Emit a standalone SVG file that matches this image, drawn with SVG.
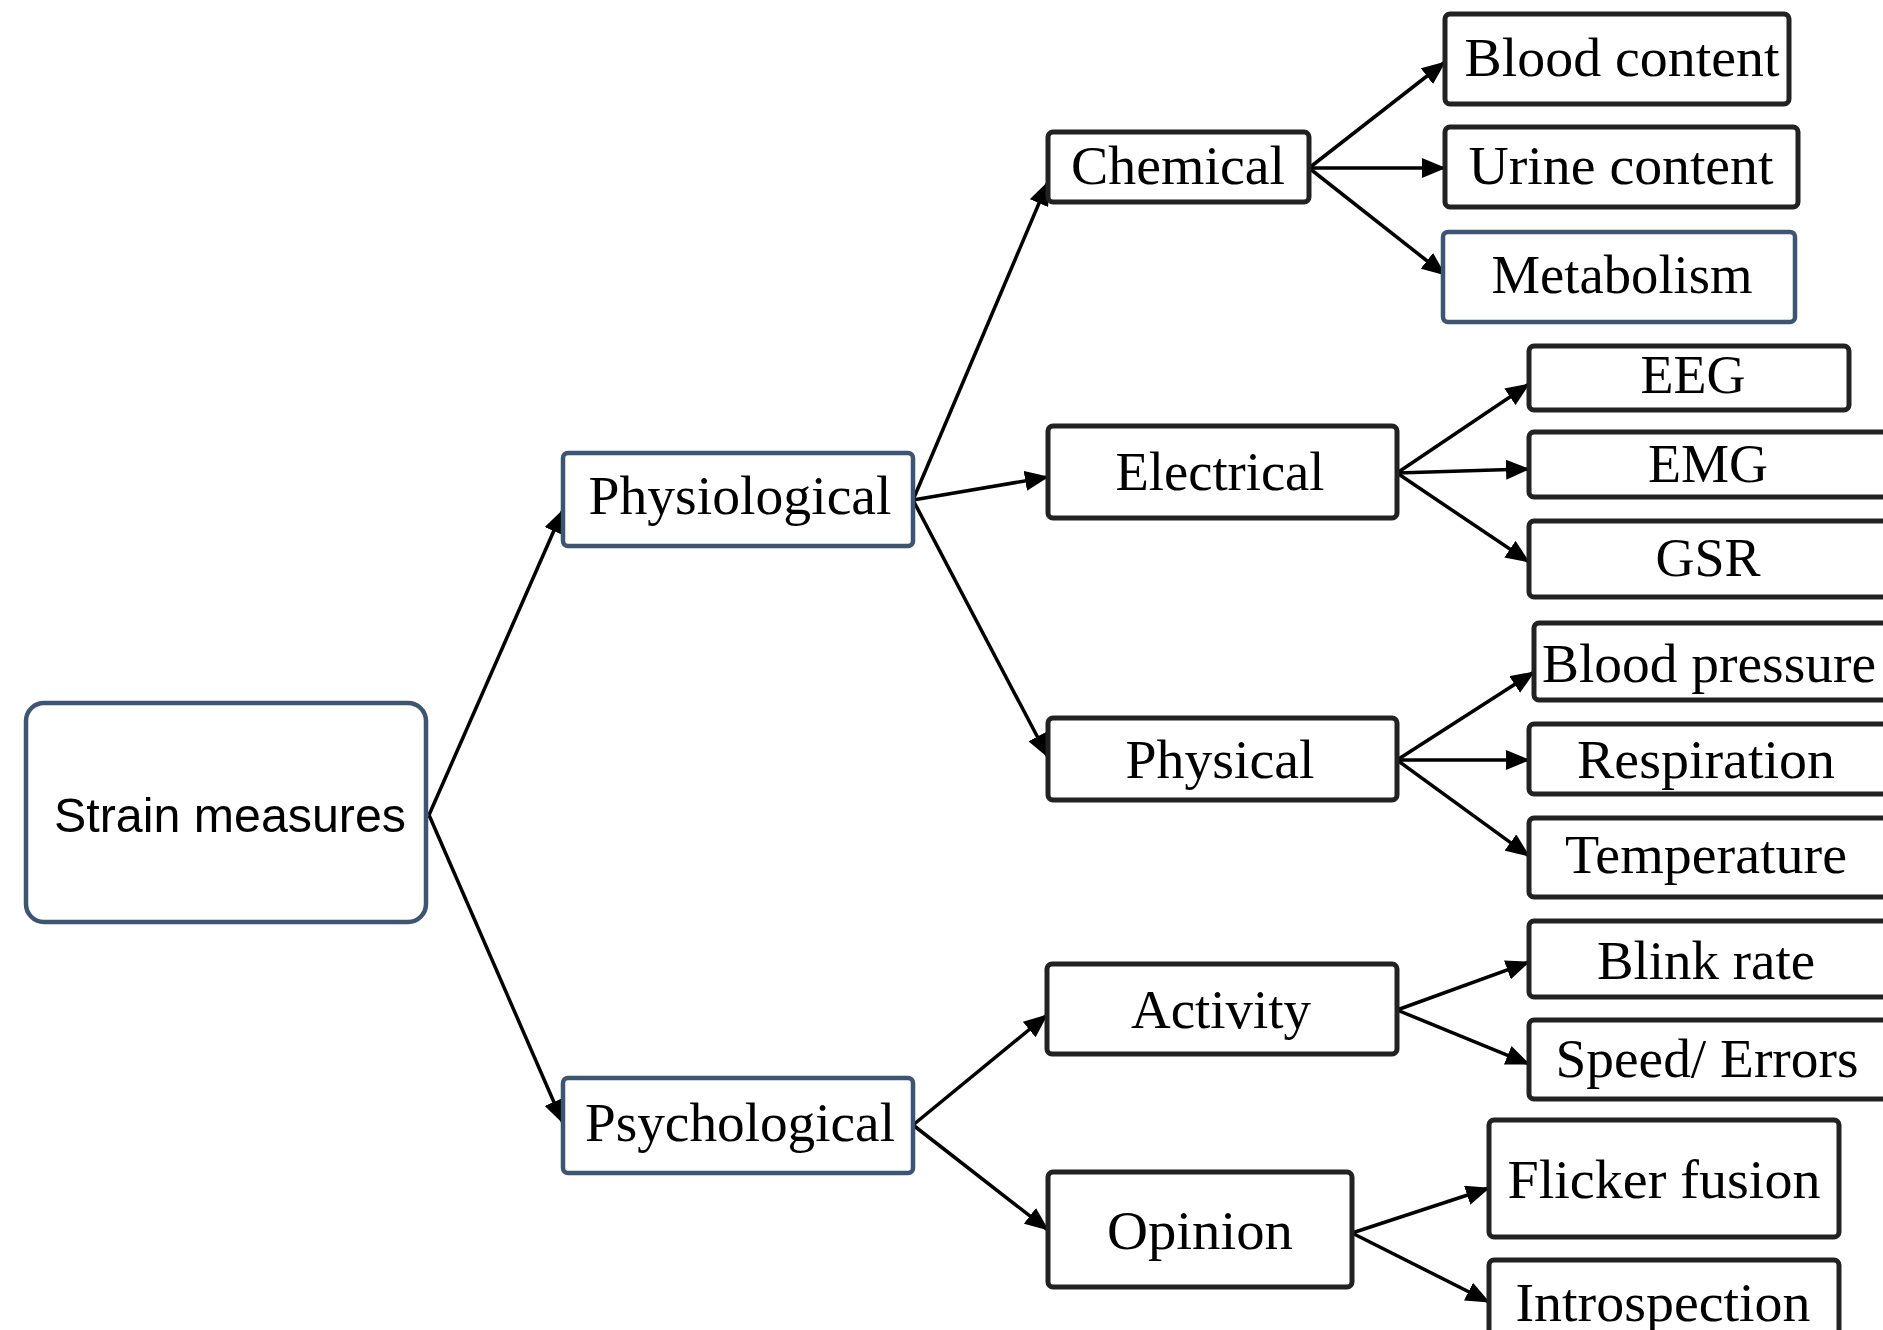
<svg xmlns="http://www.w3.org/2000/svg" width="1883" height="1330" viewBox="0 0 1883 1330">
<style>
.bx{fill:#fff;stroke:#222;stroke-width:5}
.bb{fill:#fff;stroke:#3d5573;stroke-width:4.5}
.t{font-family:"Liberation Serif","Times New Roman",serif;font-size:54px;fill:#000;text-anchor:middle}
.s{font-family:"Liberation Sans",Arial,sans-serif;font-size:48px;fill:#000;text-anchor:middle}
.c line{stroke:#000;stroke-width:3.5;marker-end:url(#ah)}
</style>
<defs>
<marker id="ah" markerUnits="userSpaceOnUse" markerWidth="24" markerHeight="20" viewBox="0 0 24 20" refX="23" refY="10" orient="auto">
<path d="M0,0 L24,10 L0,20 z" fill="#000"/>
</marker>
</defs>
<rect width="1883" height="1330" fill="#fff"/>
<g class="c" id="connectors">
<line x1="429" y1="815" x2="563" y2="510"/>
<line x1="429" y1="815" x2="563" y2="1123"/>
<line x1="913" y1="500" x2="1048" y2="182"/>
<line x1="913" y1="500" x2="1048" y2="477"/>
<line x1="913" y1="500" x2="1048" y2="757"/>
<line x1="913" y1="1125" x2="1047" y2="1015"/>
<line x1="913" y1="1125" x2="1048" y2="1230"/>
<line x1="1309" y1="168" x2="1445" y2="62"/>
<line x1="1309" y1="168" x2="1445" y2="168"/>
<line x1="1309" y1="168" x2="1445" y2="275"/>
<line x1="1397" y1="473" x2="1529" y2="384"/>
<line x1="1397" y1="473" x2="1529" y2="469"/>
<line x1="1397" y1="473" x2="1529" y2="562"/>
<line x1="1397" y1="760" x2="1534" y2="672"/>
<line x1="1397" y1="760" x2="1529" y2="760"/>
<line x1="1397" y1="760" x2="1529" y2="856"/>
<line x1="1397" y1="1010" x2="1529" y2="962"/>
<line x1="1397" y1="1010" x2="1529" y2="1064"/>
<line x1="1352" y1="1233" x2="1489" y2="1188"/>
<line x1="1352" y1="1233" x2="1489" y2="1302"/>
</g>
<g id="strain"><rect class="bb" x="26" y="703" width="400" height="219" rx="18"/><text class="s" x="230" y="832" textLength="352" lengthAdjust="spacingAndGlyphs">Strain measures</text></g>
<g id="physiological"><rect class="bb" x="563" y="453" width="350" height="93" rx="5"/><text class="t" x="740" y="514" textLength="303" lengthAdjust="spacingAndGlyphs">Physiological</text></g>
<g id="psychological"><rect class="bb" x="563" y="1078" width="350" height="95" rx="5"/><text class="t" x="740" y="1141" textLength="310" lengthAdjust="spacingAndGlyphs">Psychological</text></g>
<g id="chemical"><rect class="bx" x="1048" y="132" width="261" height="70" rx="5"/><text class="t" x="1178" y="184" textLength="214" lengthAdjust="spacingAndGlyphs">Chemical</text></g>
<g id="electrical"><rect class="bx" x="1048" y="426" width="349" height="92" rx="5"/><text class="t" x="1220" y="490" textLength="209" lengthAdjust="spacingAndGlyphs">Electrical</text></g>
<g id="physical"><rect class="bx" x="1048" y="718" width="349" height="82" rx="5"/><text class="t" x="1220" y="778" textLength="189" lengthAdjust="spacingAndGlyphs">Physical</text></g>
<g id="activity"><rect class="bx" x="1047" y="964" width="350" height="90" rx="5"/><text class="t" x="1221" y="1028" textLength="180" lengthAdjust="spacingAndGlyphs">Activity</text></g>
<g id="opinion"><rect class="bx" x="1048" y="1172" width="304" height="115" rx="5"/><text class="t" x="1200" y="1249" textLength="186" lengthAdjust="spacingAndGlyphs">Opinion</text></g>
<g id="blood-content"><rect class="bx" x="1445" y="14" width="344" height="90" rx="5"/><text class="t" x="1622" y="76" textLength="315" lengthAdjust="spacingAndGlyphs">Blood content</text></g>
<g id="urine-content"><rect class="bx" x="1445" y="127" width="353" height="80" rx="5"/><text class="t" x="1621" y="184" textLength="305" lengthAdjust="spacingAndGlyphs">Urine content</text></g>
<g id="metabolism"><rect class="bb" x="1443" y="232" width="352" height="90" rx="5"/><text class="t" x="1622" y="293" textLength="261" lengthAdjust="spacingAndGlyphs">Metabolism</text></g>
<g id="eeg"><rect class="bx" x="1529" y="346" width="320" height="64" rx="5"/><text class="t" x="1693" y="393">EEG</text></g>
<g id="emg"><rect class="bx" x="1529" y="432" width="360" height="65" rx="5"/><text class="t" x="1708" y="482">EMG</text></g>
<g id="gsr"><rect class="bx" x="1529" y="521" width="360" height="76" rx="5"/><text class="t" x="1708" y="576">GSR</text></g>
<g id="blood-pressure"><rect class="bx" x="1534" y="623" width="355" height="77" rx="5"/><text class="t" x="1709" y="682" textLength="334" lengthAdjust="spacingAndGlyphs">Blood pressure</text></g>
<g id="respiration"><rect class="bx" x="1529" y="724" width="360" height="70" rx="5"/><text class="t" x="1706" y="778" textLength="258" lengthAdjust="spacingAndGlyphs">Respiration</text></g>
<g id="temperature"><rect class="bx" x="1529" y="818" width="360" height="79" rx="5"/><text class="t" x="1706" y="873" textLength="282" lengthAdjust="spacingAndGlyphs">Temperature</text></g>
<g id="blink-rate"><rect class="bx" x="1529" y="921" width="360" height="76" rx="5"/><text class="t" x="1706" y="979" textLength="218" lengthAdjust="spacingAndGlyphs">Blink rate</text></g>
<g id="speed-errors"><rect class="bx" x="1529" y="1020" width="360" height="79" rx="5"/><text class="t" x="1707" y="1077" textLength="303" lengthAdjust="spacingAndGlyphs">Speed/ Errors</text></g>
<g id="flicker-fusion"><rect class="bx" x="1489" y="1120" width="350" height="117" rx="5"/><text class="t" x="1664" y="1198" textLength="313" lengthAdjust="spacingAndGlyphs">Flicker fusion</text></g>
<g id="introspection"><rect class="bx" x="1489" y="1260" width="350" height="90" rx="5"/><text class="t" x="1663" y="1321" textLength="295" lengthAdjust="spacingAndGlyphs">Introspection</text></g>
</svg>
